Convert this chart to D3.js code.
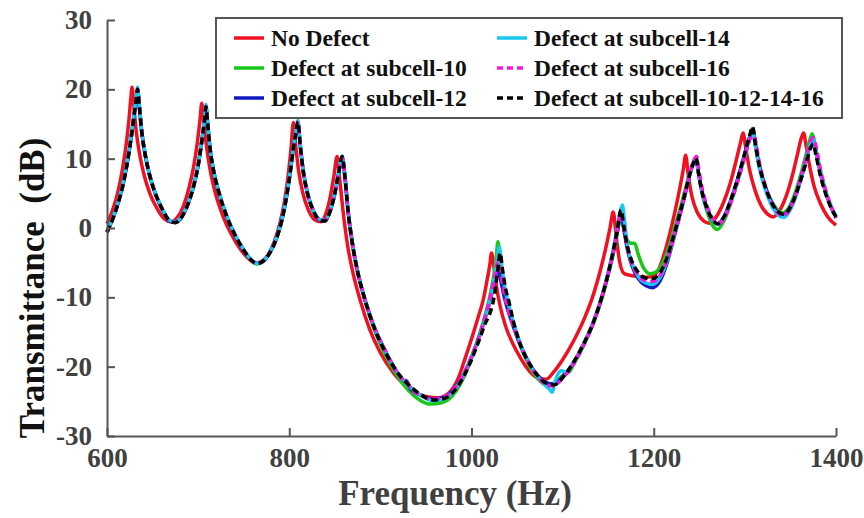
<!DOCTYPE html>
<html>
<head>
<meta charset="utf-8">
<script src="https://cdn.jsdelivr.net/npm/d3@7"></script>
<style>
  html, body { margin: 0; padding: 0; background: #fff; }
  svg { display: block; }
  text { font-family: "Liberation Serif", "Times New Roman", serif; font-weight: bold; }
</style>
</head>
<body>
<svg id="chart" width="864" height="518"></svg>
<script>
// Transmittance spectra, [frequency (Hz), transmittance (dB)]
const noDefect = [
  [600,0.6],[606,2.5],[612,5.2],[617,8.5],[621,12],[624,15.5],[626,18.5],[627.5,20.3],[629.5,17.5],[632,14],[636,10.5],[641,7.5],[647,5],[655,2.8],[663,1.3],[670,0.9],[677,1.5],[684,3.2],[690,5.8],[695,8.8],[699,12.2],[702,15.5],[704,18],[706,15.5],[709,12],[713,8.5],[719,5],[727,1.8],[736,-0.8],[746,-3],[756,-4.5],[763,-5.1],[770,-4.8],[777,-3.8],[784,-1.8],[790,0.8],[795,4],[799,7.8],[802,11.5],[804.5,15.2],[807,12],[810,8.5],[815,5],[821,2.6],[828,1.2],[835,0.9],[840,2],[845,4.5],[849,7.5],[852.5,10.3],[855,7.5],[859,2.5],[864,-2.5],[870,-6.5],[878,-10.5],[888,-14.5],[900,-18],[915,-21],[932,-23.2],[950,-24.3],[963,-24.5],[975,-23.8],[985,-21.8],[993,-18.8],[1000,-16],[1007,-13],[1013,-10.3],[1017,-7.6],[1020,-5.4],[1022,-3.6],[1024.5,-5.5],[1027.5,-8.5],[1031,-11],[1037,-14],[1045,-16.6],[1054,-18.8],[1064,-20.7],[1074,-21.7],[1082,-21.8],[1090,-20.8],[1100,-19],[1112,-16.3],[1124,-13],[1134,-9.5],[1142,-5.8],[1148,-2.5],[1152,0],[1155.5,2.3],[1159,-1.5],[1162.5,-4.8],[1167,-6.5],[1173,-6.8],[1182,-7],[1192,-7.1],[1200,-6.8],[1206,-5.8],[1212,-3.5],[1218,-0.6],[1224,2.8],[1229,6],[1232.5,8.5],[1235,10.5],[1238,7.5],[1242,4.5],[1248,2.2],[1255,1],[1261,0.7],[1268,1.5],[1276,3.5],[1284,6.5],[1290,9.5],[1295,12.2],[1298,13.7],[1301,11.5],[1305,8.5],[1311,5.5],[1318,3.2],[1325,2],[1331,1.6],[1338,2.5],[1345,4.5],[1352,7.5],[1358,10.8],[1362,13],[1364.5,13.7],[1367,12],[1371,9],[1376,6],[1383,3.5],[1391,1.6],[1400,0.4]
];

const defect10 = [
  [600,-0.5],[606,1.3],[612,3.6],[618,6.6],[623,10.1],[627,13.6],[630,16.6],[632,18.6],[633.5,20.1],[635.5,17.5],[638,14],[642,10.5],[647,7.5],[653,5],[661,2.6],[669,1],[675,0.8],[682,1.6],[689,3.5],[695,6],[700,9],[704,12.5],[707,15.6],[708.5,17.6],[710.5,15],[713,11.5],[717,8.2],[723,5],[731,1.8],[740,-0.9],[750,-3.2],[759,-4.8],[765,-5.2],[772,-4.8],[779,-3.5],[786,-1.5],[792,1.2],[797,4.5],[801,8],[804.5,11.5],[807,13.5],[809.5,15.2],[812,12],[815,8.5],[820,5],[826,2.6],[833,1.2],[839,1],[845,2.5],[850,5],[854,7.8],[858,10.2],[861,7.5],[864.5,2.5],[869,-2],[875,-6.3],[883,-10.4],[893,-14.5],[905,-18.2],[918,-21.2],[930,-23.3],[943,-24.8],[955,-25.4],[967,-25.2],[979,-24.2],[989,-22.2],[998,-19.5],[1006,-16.5],[1013,-13.5],[1019,-10.5],[1024,-7.2],[1027,-4.5],[1029,-2],[1031.5,-4.8],[1035,-8.5],[1040,-11.5],[1046,-14],[1053,-16.8],[1062,-19.5],[1072,-21.6],[1082,-22.6],[1090,-22.4],[1097,-21.6],[1103,-21],[1107,-20.8],[1112,-19.7],[1122,-17.2],[1134,-13.7],[1144,-9.8],[1151,-6.3],[1156,-3.5],[1160,-0.8],[1164,1.6],[1167,0],[1171,-1.8],[1175,-2.2],[1179,-2.2],[1183,-3.8],[1189,-5.8],[1196,-6.6],[1203,-6.3],[1210,-5],[1217,-2.6],[1224,0.5],[1231,3.8],[1237,6.8],[1242,9],[1246,9.9],[1249,8],[1253,5],[1258,2.6],[1264,0.5],[1270,-0.2],[1277,1],[1285,3.8],[1293,7.2],[1300,10.6],[1305,13],[1308.5,14.4],[1311,12.5],[1315,9.5],[1321,6.5],[1328,4.2],[1336,2.6],[1342,2.2],[1348,2.9],[1355,5],[1362,8],[1368,11],[1372,13],[1374,13.6],[1377,12],[1382,8.8],[1388,5.6],[1394,3.2],[1400,1.7]
];

const defect12 = [
  [600,-0.6],[606,1.2],[612,3.5],[618,6.5],[623,10],[627,13.5],[630,16.5],[632,18.5],[633.5,20],[635.5,17.5],[638,14],[642,10.5],[647,7.5],[653,5],[661,2.6],[669,1],[675,0.8],[682,1.6],[689,3.5],[695,6],[700,9],[704,12.5],[707,15.5],[708.5,17.4],[710.5,15],[713,11.5],[717,8.2],[723,5],[731,1.8],[740,-0.9],[750,-3.2],[759,-4.7],[765,-5.1],[772,-4.7],[779,-3.5],[786,-1.5],[792,1.2],[797,4.5],[801,8],[804.5,11.5],[807,13.5],[809.5,15.2],[812,12],[815,8.5],[820,5],[826,2.6],[833,1.2],[839,1],[845,2.5],[850,5],[854,7.8],[858,10.2],[861,7.5],[864.5,2.5],[869,-2],[875,-6.3],[883,-10.3],[893,-14.2],[905,-17.6],[916,-20.3],[925,-21.9],[929,-22.1],[933,-23.2],[944,-24.1],[958,-24.7],[970,-24.4],[981,-23.2],[991,-21.2],[1000,-18.6],[1008,-15.8],[1015,-13],[1021,-10.2],[1025.5,-7.6],[1029,-5.6],[1032,-7.5],[1036,-10],[1041,-12.3],[1047,-14.6],[1054,-17],[1063,-19.4],[1073,-21.3],[1082,-22.3],[1090,-22.5],[1099,-21.6],[1110,-19.8],[1122,-17],[1134,-13.5],[1144,-9.5],[1151,-6],[1156,-3.2],[1160,-0.5],[1164,2.2],[1167,0],[1171,-3],[1176,-5.4],[1183,-7.3],[1191,-8.3],[1199,-8.6],[1207,-7.6],[1214,-5.3],[1221,-2],[1228,1.5],[1234,4.6],[1239,7.4],[1243,9.1],[1246.5,10],[1249,8],[1253,5.2],[1258,3],[1264,1.3],[1270,0.6],[1277,1.6],[1285,4.2],[1293,7.5],[1300,10.8],[1305,13],[1308.5,14.2],[1311,12.5],[1315,9.5],[1321,6.5],[1328,4],[1336,2.3],[1342,1.9],[1348,2.6],[1355,4.5],[1362,7.4],[1368,10.2],[1372,12.2],[1375,12.7],[1378,11],[1383,7.8],[1389,5],[1395,2.9],[1400,1.6]
];

const defect14 = [
  [600,-0.5],[606,1.3],[612,3.6],[618,6.7],[623,10.2],[627,13.8],[630,16.8],[632,18.8],[633.5,20.3],[635.5,17.8],[638,14.2],[642,10.6],[647,7.6],[653,5.1],[661,2.7],[669,1.1],[675,0.9],[682,1.7],[689,3.6],[695,6.1],[700,9.1],[704,12.7],[707,15.8],[708.5,17.8],[710.5,15.2],[713,11.6],[717,8.3],[723,5.1],[731,1.9],[740,-0.8],[750,-3.1],[759,-4.7],[765,-5.1],[772,-4.7],[779,-3.4],[786,-1.4],[792,1.3],[797,4.6],[801,8.1],[804.5,11.6],[807,13.7],[809.5,15.5],[812,12.1],[815,8.6],[820,5.1],[826,2.7],[833,1.3],[839,1.1],[845,2.6],[850,5.1],[854,7.9],[858,10.4],[861,7.6],[864.5,2.6],[869,-1.9],[875,-6.2],[883,-10.2],[893,-14.2],[905,-17.7],[918,-20.7],[930,-22.6],[944,-24.1],[958,-24.9],[970,-24.6],[981,-23.4],[991,-21.3],[1000,-18.7],[1008,-15.9],[1015,-13],[1021,-10],[1025,-7.4],[1028,-4.8],[1030.5,-2.7],[1033,-5.2],[1036.5,-8.5],[1041,-11.2],[1047,-14],[1054,-16.8],[1063,-19.4],[1073,-21.5],[1081,-22.7],[1086,-23.3],[1088.5,-23.7],[1091,-22.5],[1095,-21],[1099,-20.6],[1104,-20.8],[1111,-19.6],[1122,-17],[1134,-13.4],[1144,-9.4],[1151,-5.8],[1156,-2.8],[1160,0],[1163,2],[1165.5,3.3],[1168,1],[1171,-2.4],[1176,-5],[1183,-7],[1191,-7.9],[1199,-8.1],[1207,-7.1],[1214,-5],[1221,-1.8],[1228,1.6],[1234,4.7],[1239,7.5],[1243,9.3],[1246.5,10.1],[1249,8],[1253,5.2],[1258,3],[1264,1.3],[1270,0.5],[1277,1.4],[1285,4],[1293,7.2],[1300,10.4],[1305,12.8],[1308.5,14],[1311,12.2],[1315,9.2],[1321,6.1],[1328,3.6],[1336,1.9],[1342,1.5],[1348,2.2],[1355,4.2],[1362,7.2],[1368,10.2],[1372,12.2],[1375,12.8],[1378,11.2],[1383,8],[1389,5.1],[1395,3],[1400,1.6]
];

const defect16 = [
  [600,-0.6],[606,1.2],[612,3.5],[618,6.5],[623,10],[627,13.5],[630,16.5],[632,18.5],[633.5,20],[635.5,17.5],[638,14],[642,10.5],[647,7.5],[653,5],[661,2.6],[669,1],[675,0.8],[682,1.6],[689,3.5],[695,6],[700,9],[704,12.5],[707,15.5],[708.5,17.5],[710.5,15],[713,11.5],[717,8.2],[723,5],[731,1.8],[740,-0.9],[750,-3.2],[759,-4.7],[765,-5.1],[772,-4.7],[779,-3.5],[786,-1.5],[792,1.2],[797,4.5],[801,8],[804.5,11.5],[807,13.5],[809.5,15.2],[812,12],[815,8.5],[820,5],[826,2.6],[833,1.2],[839,1],[845,2.5],[850,5],[854,7.8],[858,10.2],[861,7.5],[864.5,2.5],[869,-2],[875,-6.3],[883,-10.3],[893,-14.2],[905,-17.6],[916,-20.3],[925,-21.9],[929,-22.1],[933,-23.1],[944,-24.1],[958,-24.7],[970,-24.4],[981,-23.2],[991,-21.2],[1000,-18.6],[1008,-15.8],[1015,-12.8],[1021,-9.8],[1025.5,-7],[1029.5,-4.8],[1032.5,-7],[1036.5,-9.8],[1041,-12.2],[1047,-14.6],[1054,-17],[1063,-19.5],[1073,-21.5],[1082,-22.6],[1090,-22.8],[1099,-21.8],[1110,-20],[1122,-17.2],[1134,-13.6],[1144,-9.6],[1151,-6.1],[1156,-3.1],[1160,-0.4],[1164,2.2],[1167,0.1],[1171,-2.8],[1176,-5.1],[1183,-6.8],[1191,-7.6],[1199,-7.7],[1207,-6.8],[1214,-4.8],[1221,-1.8],[1228,1.5],[1234,4.7],[1239,7.6],[1243,9.4],[1247,10.3],[1250,8],[1254,5.2],[1259,3],[1265,1.3],[1271,0.6],[1278,1.6],[1286,4.2],[1294,7.5],[1301,10.8],[1306,13],[1309,14.2],[1312,12.4],[1316,9.4],[1322,6.3],[1329,3.8],[1336,2.2],[1342,1.8],[1348,2.5],[1355,4.5],[1362,7.6],[1368,10.6],[1372,12.5],[1375.5,13],[1378.5,11.5],[1383,8.4],[1389,5.3],[1395,3],[1400,1.4]
];

const defectAll = [
  [600,-0.6],[606,1.2],[612,3.5],[618,6.5],[623,10],[627,13.5],[630,16.5],[632,18.5],[633.5,20],[635.5,17.5],[638,14],[642,10.5],[647,7.5],[653,5],[661,2.6],[669,1],[675,0.8],[682,1.6],[689,3.5],[695,6],[700,9],[704,12.5],[707,15.5],[708.5,17.5],[710.5,15],[713,11.5],[717,8.2],[723,5],[731,1.8],[740,-0.9],[750,-3.2],[759,-4.7],[765,-5.1],[772,-4.7],[779,-3.5],[786,-1.5],[792,1.2],[797,4.5],[801,8],[804.5,11.5],[807,13.5],[809.5,15.3],[812,12],[815,8.5],[820,5],[826,2.6],[833,1.2],[839,1],[845,2.5],[850,5],[854,7.8],[858,10.3],[861,7.5],[864.5,2.5],[869,-2],[875,-6.3],[883,-10.3],[893,-14.3],[905,-17.8],[918,-20.7],[930,-22.5],[944,-24],[958,-24.8],[970,-24.6],[981,-23.5],[991,-21.5],[1000,-19],[1008,-16.3],[1015,-13.8],[1021,-12],[1025,-9.8],[1028.5,-6.4],[1031.5,-3.6],[1034,-6],[1037.5,-8.8],[1041,-10.6],[1046,-13.5],[1053,-16.6],[1062,-19.2],[1072,-21.2],[1082,-22.4],[1091,-22.6],[1100,-21.6],[1110,-19.8],[1122,-17],[1134,-13.5],[1144,-9.5],[1151,-6],[1156,-3],[1160,-0.2],[1164,2.6],[1167,0.3],[1171,-2.6],[1176,-4.8],[1183,-6.4],[1191,-7.2],[1199,-7.3],[1207,-6.4],[1214,-4.5],[1221,-1.5],[1228,1.8],[1234,4.8],[1239,7.5],[1243,9.2],[1246.5,10.1],[1249,8],[1253,5.2],[1258,3],[1264,1.3],[1270,0.6],[1277,1.6],[1285,4.2],[1293,7.5],[1300,10.8],[1305,13.2],[1308.5,14.6],[1311,12.5],[1315,9.5],[1321,6.5],[1328,4],[1336,2.4],[1342,2],[1348,2.6],[1355,4.5],[1362,7.2],[1368,9.8],[1372,11.5],[1375,12.1],[1378,10.5],[1383,7.5],[1389,4.8],[1395,2.8],[1400,1.6]
];

const seriesNames = [
  "No Defect",
  "Defect at subcell-10",
  "Defect at subcell-12",
  "Defect at subcell-14",
  "Defect at subcell-16",
  "Defect at subcell-10-12-14-16"
];
const seriesData = [noDefect, defect10, defect12, defect14, defect16, defectAll];

const xTicks = [600, 800, 1000, 1200, 1400];
const yTicks = [-30, -20, -10, 0, 10, 20, 30];

// Styling per series
const colors = ["#f01020", "#18c818", "#1018c0", "#18c8f0", "#f018e0", "#000000"];
const dashes = [null, null, null, null, "7,4", "7,4"];

const serif = '"Liberation Serif", "Times New Roman", serif';
const svg = d3.select("#chart");
const axisColor = "#555";
const labelColor = "#404040";

const x = d3.scaleLinear().domain([600, 1400]).range([107, 836]);
const y = d3.scaleLinear().domain([-30, 30]).range([436, 20]);

// Curves
const line = d3.line()
  .x(d => x(d[0]))
  .y(d => y(d[1]))
  .curve(d3.curveMonotoneX);

svg.append("g")
  .selectAll("path")
  .data(seriesData)
  .join("path")
  .attr("d", line)
  .attr("fill", "none")
  .attr("stroke", (d, i) => colors[i])
  .attr("stroke-width", 3.5)
  .attr("stroke-linejoin", "round")
  .attr("stroke-dasharray", (d, i) => dashes[i]);

// Axes (left and bottom only, inward ticks)
const yAxis = d3.axisLeft(y)
  .tickValues(yTicks)
  .tickFormat(d => String(d))
  .tickSizeInner(-8)
  .tickSizeOuter(0)
  .tickPadding(15);

const xAxis = d3.axisBottom(x)
  .tickValues(xTicks)
  .tickFormat(d => String(d))
  .tickSizeInner(-8)
  .tickSizeOuter(0)
  .tickPadding(12);

const gy = svg.append("g").attr("transform", `translate(${x(600)},0)`).call(yAxis);
const gx = svg.append("g").attr("transform", `translate(0,${y(-30)})`).call(xAxis);

[gx, gy].forEach(g => {
  g.attr("font-family", serif).attr("font-size", 27);
  g.select(".domain").attr("stroke", axisColor).attr("stroke-width", 2);
  g.selectAll(".tick line").attr("stroke", axisColor).attr("stroke-width", 2);
  g.selectAll(".tick text")
    .attr("fill", labelColor)
    .style("font-size", "27px")
    .style("font-family", serif)
    .style("font-weight", "bold");
});

// Axis titles
svg.append("text")
  .attr("x", 455)
  .attr("y", 505)
  .attr("text-anchor", "middle")
  .attr("fill", labelColor)
  .style("font-family", serif)
  .style("font-size", "35px")
  .text("Frequency (Hz)");

svg.append("text")
  .attr("transform", "translate(44,288) rotate(-90)")
  .attr("text-anchor", "middle")
  .attr("fill", "#111")
  .style("font-family", serif)
  .style("font-size", "35px")
  .style("white-space", "pre")
  .text("Transmittance  (dB)");

// Legend
const legend = svg.append("g");
legend.append("rect")
  .attr("x", 216).attr("y", 18)
  .attr("width", 626).attr("height", 100)
  .attr("fill", "#fff")
  .attr("stroke", axisColor)
  .attr("stroke-width", 2);

const legendCols = [234, 497];
const legendRows = [38, 68, 98];
const items = legend.selectAll("g.item")
  .data(seriesNames)
  .join("g")
  .attr("class", "item")
  .attr("transform", (d, i) => `translate(${legendCols[Math.floor(i / 3)]},${legendRows[i % 3]})`);

items.append("line")
  .attr("x1", 0).attr("x2", 30)
  .attr("y1", 0).attr("y2", 0)
  .attr("stroke", (d, i) => colors[i])
  .attr("stroke-width", 3.5)
  .attr("stroke-dasharray", (d, i) => dashes[i] ? "6,4" : null);

items.append("text")
  .attr("x", 37)
  .attr("y", 0)
  .attr("dy", "0.33em")
  .attr("fill", "#111")
  .style("font-family", serif)
  .style("font-size", "23.5px")
  .text(d => d);
</script>
</body>
</html>
